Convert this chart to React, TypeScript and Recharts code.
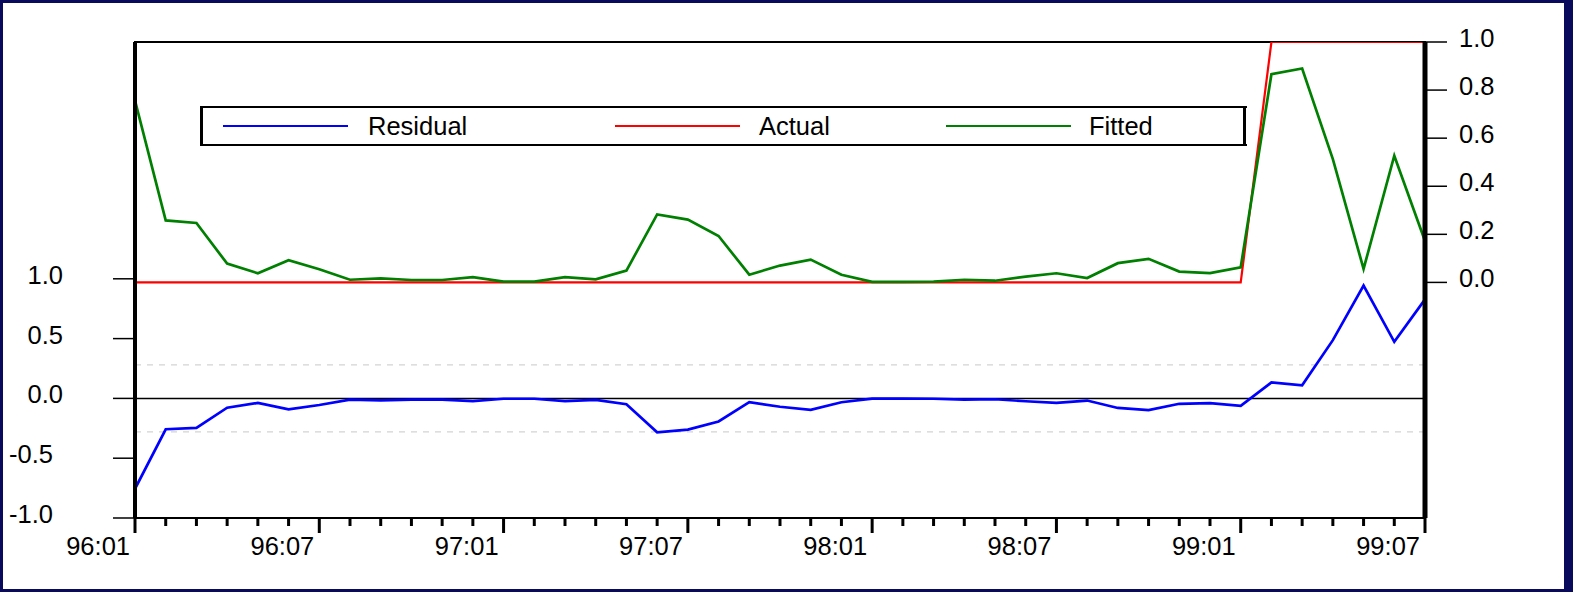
import React from "react";
import { LineChart, Line, XAxis, YAxis, ReferenceLine, ReferenceArea } from "recharts";

const months = [
  "96:01", "96:02", "96:03", "96:04", "96:05", "96:06", "96:07", "96:08", "96:09", "96:10", "96:11", "96:12",
  "97:01", "97:02", "97:03", "97:04", "97:05", "97:06", "97:07", "97:08", "97:09", "97:10", "97:11", "97:12",
  "98:01", "98:02", "98:03", "98:04", "98:05", "98:06", "98:07", "98:08", "98:09", "98:10", "98:11", "98:12",
  "99:01", "99:02", "99:03", "99:04", "99:05", "99:06", "99:07",
];

const residual = [
  -0.756, -0.258, -0.247, -0.078, -0.038, -0.092, -0.055, -0.011, -0.017, -0.010, -0.010, -0.022,
  -0.003, -0.003, -0.022, -0.013, -0.049, -0.283, -0.261, -0.193, -0.032, -0.070, -0.095, -0.032,
  -0.002, -0.002, -0.003, -0.011, -0.007, -0.024, -0.038, -0.018, -0.080, -0.098, -0.045, -0.039,
  -0.063, 0.134, 0.110, 0.487, 0.944, 0.473, 0.828,
];

const actual = [
  0, 0, 0, 0, 0, 0, 0, 0, 0, 0, 0, 0,
  0, 0, 0, 0, 0, 0, 0, 0, 0, 0, 0, 0,
  0, 0, 0, 0, 0, 0, 0, 0, 0, 0, 0, 0,
  0, 1, 1, 1, 1, 1, 1,
];

const fitted = [
  0.756, 0.258, 0.247, 0.078, 0.038, 0.092, 0.055, 0.011, 0.017, 0.010, 0.010, 0.022,
  0.003, 0.003, 0.022, 0.013, 0.049, 0.283, 0.261, 0.193, 0.032, 0.070, 0.095, 0.032,
  0.002, 0.002, 0.003, 0.011, 0.007, 0.024, 0.038, 0.018, 0.080, 0.098, 0.045, 0.039,
  0.063, 0.866, 0.890, 0.513, 0.056, 0.527, 0.172,
];

const residualTicks = [-1, -0.5, 0, 0.5, 1];
const fittedTicks = [0, 0.2, 0.4, 0.6, 0.8, 1];
const bandLevel = 0.28;
const seriesNames = ["Residual", "Actual", "Fitted"];
const seriesColors = ["#0000ff", "#ff0000", "#008000"];

const data = months.map((m, i) => ({
  idx: i,
  month: m,
  residual: residual[i],
  actual: actual[i],
  fitted: fitted[i],
}));

const FONT = '"Liberation Sans", Arial, sans-serif';
const FS = 25.5;

const XTick = (props: any) => {
  const { x, y, payload } = props;
  const label = months[payload.value];
  if (label === undefined) return null;
  const major = label.endsWith(":01") || label.endsWith(":07");
  return (
    <g>
      <line x1={x} x2={x} y1={y} y2={y + (major ? 15 : 8)} stroke="#000" strokeWidth={3} />
      {major && (
        <text x={x - 5} y={y + 37} textAnchor="end" fontFamily={FONT} fontSize={FS} fill="#000">
          {label}
        </text>
      )}
    </g>
  );
};

const LeftTick = (props: any) => {
  const { x, y, payload } = props;
  const v = payload.value as number;
  return (
    <text x={x - (v < 0 ? 10 : 0)} y={y + 5} textAnchor="end" fontFamily={FONT} fontSize={FS} fill="#000">
      {v.toFixed(1)}
    </text>
  );
};

const RightTick = (props: any) => {
  const { x, y, payload } = props;
  const v = payload.value as number;
  return (
    <text x={x} y={y + 5} textAnchor="start" fontFamily={FONT} fontSize={FS} fill="#000">
      {v.toFixed(1)}
    </text>
  );
};

const LegendOverlay = () => {
  const lineStarts = [223, 615, 946];
  const textStarts = [368, 759, 1089];
  return (
    <svg
      width={1573}
      height={592}
      style={{ position: "absolute", left: 0, top: 0, pointerEvents: "none" }}
    >
      <rect x={201} y={107} width={1044} height={38} fill="#fff" stroke="none" />
      <line x1={200} x2={1247} y1={107} y2={107} stroke="#000" strokeWidth={2} />
      <line x1={200} x2={1247} y1={145} y2={145} stroke="#000" strokeWidth={2} />
      <line x1={201.5} x2={201.5} y1={106} y2={146} stroke="#000" strokeWidth={3} />
      <line x1={1244.5} x2={1244.5} y1={106} y2={146} stroke="#000" strokeWidth={3} />
      {seriesNames.map((name, i) => (
        <g key={name}>
          <line x1={lineStarts[i]} x2={lineStarts[i] + 125} y1={126} y2={126} stroke={seriesColors[i]} strokeWidth={2} />
          <text x={textStarts[i]} y={135} fontFamily={FONT} fontSize={FS} fill="#000">
            {name}
          </text>
        </g>
      ))}
    </svg>
  );
};

export default function App() {
  return (
    <div
      style={{
        position: "absolute",
        left: 0,
        top: 0,
        width: 1573,
        height: 592,
        background: "#0a0a5c",
      }}
    >
      <div
        style={{
          position: "absolute",
          left: 3,
          top: 3,
          width: 1561,
          height: 586,
          background: "#fff",
        }}
      />
      <div style={{ position: "absolute", left: 0, top: 0 }}>
        <LineChart width={1573} height={592} data={data} margin={{ top: 42, right: 0, bottom: 0, left: 0 }}>
          <ReferenceArea
            yAxisId="res"
            x1={0}
            x2={42}
            y1={-1}
            y2={2.98}
            fill="none"
            fillOpacity={0}
            stroke="#000"
            strokeWidth={2}
            ifOverflow="visible"
          />
          <ReferenceLine yAxisId="res" y={bandLevel} stroke="#d4d4d4" strokeDasharray="6 6" strokeWidth={1.2} />
          <ReferenceLine yAxisId="res" y={-bandLevel} stroke="#d4d4d4" strokeDasharray="6 6" strokeWidth={1.2} />
          <ReferenceLine yAxisId="res" y={0} stroke="#000" strokeWidth={1.5} />
          <Line yAxisId="fit" dataKey="actual" name="Actual" stroke="#ff0000" strokeWidth={2.2} dot={false} isAnimationActive={false} />
          <Line yAxisId="fit" dataKey="fitted" name="Fitted" stroke="#008000" strokeWidth={2.7} dot={false} isAnimationActive={false} />
          <Line yAxisId="res" dataKey="residual" name="Residual" stroke="#0000ff" strokeWidth={2.7} dot={false} isAnimationActive={false} />
          <XAxis
            dataKey="idx"
            type="number"
            domain={[0, 42]}
            ticks={data.map((d) => d.idx)}
            interval={0}
            tickSize={0}
            tickMargin={0}
            tickLine={false}
            tick={<XTick />}
            height={74}
            stroke="#000"
            strokeWidth={2}
            axisLine={{ stroke: "#000", strokeWidth: 2 }}
            allowDataOverflow
          />
          <YAxis
            yAxisId="res"
            orientation="left"
            width={135}
            domain={[-1, 2.98]}
            ticks={residualTicks}
            interval={0}
            tickSize={22}
            tickMargin={50}
            tick={<LeftTick />}
            stroke="#000"
            strokeWidth={4}
            tickLine={{ stroke: "#000", strokeWidth: 1.5 }}
            axisLine={{ stroke: "#000", strokeWidth: 4 }}
            allowDataOverflow
          />
          <YAxis
            yAxisId="fit"
            orientation="right"
            width={148}
            domain={[-0.98, 1]}
            ticks={fittedTicks}
            interval={0}
            tickSize={22}
            tickMargin={12}
            tick={<RightTick />}
            stroke="#000"
            strokeWidth={5}
            tickLine={{ stroke: "#000", strokeWidth: 1.5 }}
            axisLine={{ stroke: "#000", strokeWidth: 5 }}
            allowDataOverflow
          />
        </LineChart>
      </div>
      <LegendOverlay />
    </div>
  );
}
